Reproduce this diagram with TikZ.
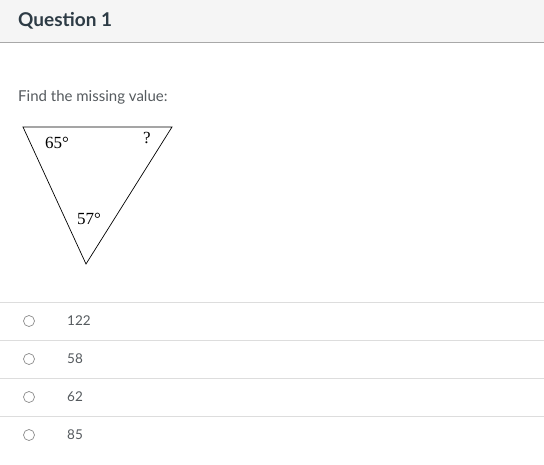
\documentclass[tikz,border=0pt]{standalone}
\usepackage{fontspec}
\setmainfont{Lato}
\newfontfamily\serifx{Liberation Serif}
\definecolor{hdrbg}{HTML}{F5F5F5}
\definecolor{hdrline}{HTML}{A8A8A8}
\definecolor{titlec}{HTML}{2D3B45}
\definecolor{txtc}{HTML}{555A5E}
\definecolor{sepc}{HTML}{DDDDDD}
\definecolor{radc}{HTML}{8A8A8A}
\begin{document}
\begin{tikzpicture}[x=1pt,y=-1pt,
  sep/.style={draw=sepc,line width=0.9pt},
  radio/.style={circle,draw=radc,line width=0.7pt,minimum size=11pt,inner sep=0pt},
  ans/.style={anchor=west,text=txtc,font=\fontsize{13.5}{16}\selectfont,inner sep=0pt},
  ang/.style={font=\fontsize{17}{19}\selectfont\serifx,inner sep=0pt,text=black}]
\useasboundingbox (0,0) rectangle (544,464);
\fill[hdrbg] (0,0) rectangle (544,42);
\draw[hdrline,line width=0.9pt] (0,42) -- (544,42);
\node[anchor=base west,inner sep=0pt,text=titlec,font=\bfseries\fontsize{19}{22}\selectfont] (title) at (18,26) {Question 1};
\node[anchor=base west,inner sep=0pt,text=txtc,font=\fontsize{15}{18}\selectfont] (prompt) at (18,101) {Find the missing value:};
% triangle
\coordinate (A) at (23,127);
\coordinate (B) at (172,127);
\coordinate (C) at (86,264);
\draw[line width=0.7pt] (A) -- (B) -- (C) -- cycle;
\node[ang] (a1) at (57,143) {\serifx 65°};
\node[ang] (a2) at (147,138) {\serifx ?};
\node[ang] (a3) at (89,219) {\serifx 57°};
% answers
\foreach \y/\t [count=\i] in {321/122,359/58,397/62,435/85}{
  \draw[sep] (0,\y-19) -- (544,\y-19);
  \node[radio] (r\i) at (29,\y) {};
  \node[ans] (t\i) at (67,\y) {\t};
}
\end{tikzpicture}
\end{document}
